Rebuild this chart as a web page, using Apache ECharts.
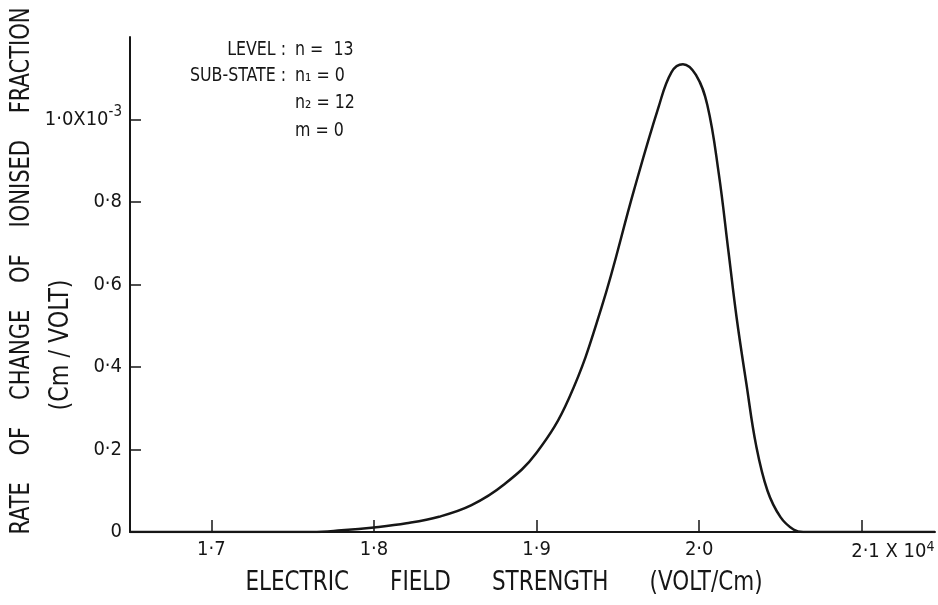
<!DOCTYPE html>
<html>
<head>
<meta charset="utf-8">
<title>Rate of change of ionised fraction</title>
<script src="https://cdn.jsdelivr.net/npm/echarts@6/dist/echarts.min.js"></script>
<style>
  html, body { margin: 0; padding: 0; background: #fff; }
  #chart { width: 938px; height: 605px; }
</style>
</head>
<body>
<div id="chart"></div>
<script>
// Field strength (x 10^4 V/cm) and rate of change of ionised fraction (x 10^-3 cm/V)
var fieldStrength = [1.65, 1.70, 1.762, 1.78, 1.80, 1.82, 1.84, 1.86, 1.88, 1.90, 1.92,
  1.94, 1.96, 1.975, 1.983, 1.990, 1.998, 2.005, 2.012, 2.018, 2.023, 2.029, 2.035,
  2.042, 2.050, 2.058, 2.064, 2.10, 2.145];
var ionRate = [0, 0, 0, 0.004, 0.011, 0.021, 0.037, 0.065, 0.115, 0.192, 0.325,
  0.545, 0.83, 1.03, 1.115, 1.134, 1.108, 1.035, 0.87, 0.68, 0.52, 0.36, 0.21,
  0.10, 0.036, 0.006, 0, 0, 0];

var xTicks = [1.7, 1.8, 1.9, 2.0, 2.1];
var yTicks = [0, 0.2, 0.4, 0.6, 0.8, 1.0];

var stateLabels = ['LEVEL', 'SUB-STATE', '', ''];
var stateValues = ['n =  13', 'n\u2081 = 0', 'n\u2082 = 12', 'm = 0'];

var font = "'DejaVu Sans Condensed', 'Liberation Sans Narrow', sans-serif";
var ink = '#161616';

function dot(v) { return v.toFixed(1).replace('.', '\u00b7'); }

var chart = echarts.init(document.getElementById('chart'));

var graphics = [
  {
    type: 'text', x: 22, y: 271, rotation: Math.PI / 2, scaleX: 0.9,
    style: {
      text: 'RATE    OF    CHANGE    OF    IONISED    FRACTION',
      font: '26px ' + font, fill: ink, align: 'center', verticalAlign: 'middle'
    }
  },
  {
    type: 'text', x: 61, y: 345, rotation: Math.PI / 2, scaleX: 0.95,
    style: {
      text: '(Cm / VOLT)',
      font: '26px ' + font, fill: ink, align: 'center', verticalAlign: 'middle'
    }
  },
  {
    type: 'text', x: 504, y: 583, scaleX: 0.92,
    style: {
      text: 'ELECTRIC      FIELD      STRENGTH      (VOLT/Cm)',
      font: '26px ' + font, fill: ink, align: 'center', verticalAlign: 'middle'
    }
  }
];
var rowY = [50, 76, 103, 131];
stateLabels.forEach(function(s, i) {
  if (s) {
    graphics.push({
      type: 'text', x: 286, y: rowY[i], scaleX: 0.88,
      style: { text: s + ' :', font: '20px ' + font, fill: ink, align: 'right', verticalAlign: 'middle' }
    });
  }
  graphics.push({
    type: 'text', x: 295, y: rowY[i], scaleX: 0.88,
    style: { text: stateValues[i], font: '20px ' + font, fill: ink, align: 'left', verticalAlign: 'middle' }
  });
});

chart.setOption({
  animation: false,
  backgroundColor: '#ffffff',
  grid: { left: 130, right: 3, top: 37, bottom: 73 },
  xAxis: {
    type: 'value',
    min: 1.65,
    max: 2.145,
    axisLine: { lineStyle: { color: ink, width: 2 } },
    axisTick: { show: true, inside: true, length: 12, customValues: xTicks, lineStyle: { color: ink, width: 1.5 } },
    axisLabel: {
      customValues: xTicks,
      margin: 8,
      color: ink,
      fontFamily: font,
      fontSize: 20,
      formatter: function(v) {
        if (Math.abs(v - 2.1) < 1e-6) return '{pad| }{n|' + dot(v) + '}{n| X 10}{sup|4}';
        return '{n|' + dot(v) + '}';
      },
      rich: {
        n: { fontSize: 20, fontFamily: font, color: ink },
        pad: { width: 62 },
        sup: { fontSize: 14, fontFamily: font, color: ink, padding: [0, 0, 10, 0] }
      }
    },
    splitLine: { show: false }
  },
  yAxis: {
    type: 'value',
    min: 0,
    max: 1.2,
    axisLine: { show: true, lineStyle: { color: ink, width: 2 } },
    axisTick: { show: true, inside: true, length: 11, customValues: yTicks, lineStyle: { color: ink, width: 1.5 } },
    axisLabel: {
      customValues: yTicks,
      margin: 8,
      color: ink,
      fontFamily: font,
      fontSize: 20,
      formatter: function(v) {
        if (v === 0) return '{n|0}';
        if (Math.abs(v - 1) < 1e-6) return '{n|1\u00b70X10}{sup|-3}';
        return '{n|' + dot(v) + '}';
      },
      rich: {
        n: { fontSize: 20, fontFamily: font, color: ink },
        sup: { fontSize: 15, fontFamily: font, color: ink, padding: [0, 0, 14, 0] }
      }
    },
    splitLine: { show: false }
  },
  graphic: graphics,
  series: [{
    type: 'line',
    data: fieldStrength.map(function(x, i) { return [x, ionRate[i]]; }),
    smooth: 0.4,
    showSymbol: false,
    lineStyle: { color: ink, width: 2.5 }
  }]
});
</script>
</body>
</html>
